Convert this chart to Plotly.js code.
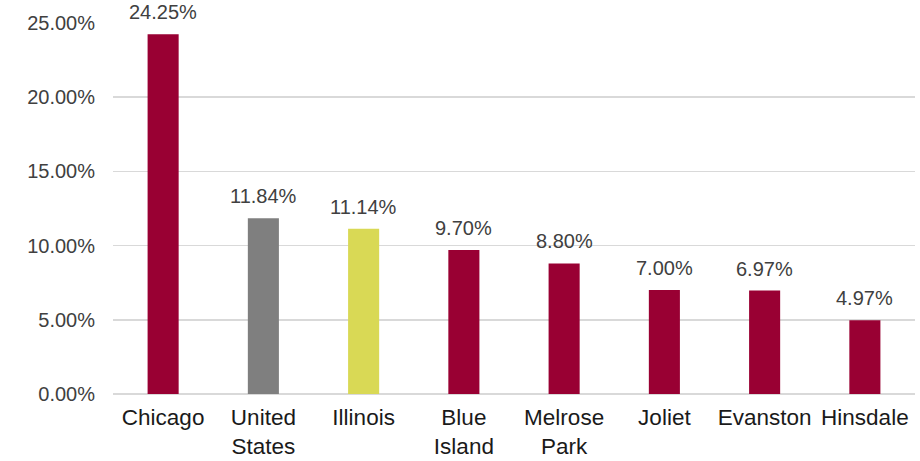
<!DOCTYPE html>
<html>
<head>
<meta charset="utf-8">
<script src="https://cdn.plot.ly/plotly-3.0.1.min.js"></script>
<style>html,body{margin:0;padding:0;background:#fff;}#chart{width:920px;height:461px;}</style>
</head>
<body>
<div id="chart"></div>
<script>
var categories = ["Chicago", "United<br>States", "Illinois", "Blue<br>Island", "Melrose<br>Park", "Joliet", "Evanston", "Hinsdale"];
var values = [24.25, 11.84, 11.14, 9.70, 8.80, 7.00, 6.97, 4.97];
var barColors = ["#990033", "#7f7f7f", "#d9d955", "#990033", "#990033", "#990033", "#990033", "#990033"];
var tickValues = [0, 5, 10, 15, 20, 25];
var tickLabels = ["0.00%", "5.00%", "10.00%", "15.00%", "20.00%", "25.00%"];

var font = "Liberation Sans, Arial, sans-serif";

var trace = {
  type: "bar",
  x: categories,
  y: values,
  marker: {color: barColors},
  width: 0.31,
  hoverinfo: "skip"
};

var annotations = categories.map(function (c, i) {
  return {
    x: c, y: values[i], xref: "x", yref: "y",
    text: values[i].toFixed(2) + "%",
    showarrow: false, yanchor: "bottom", yshift: 9,
    font: {family: font, size: 20, color: "#404040"}
  };
});

var layout = {
  width: 920, height: 461,
  margin: {l: 113, r: 5, t: 22.5, b: 66.7},
  paper_bgcolor: "#fff", plot_bgcolor: "#fff",
  showlegend: false,
  bargap: 0.69,
  xaxis: {
    type: "category",
    showgrid: false,
    showline: false,
    zeroline: false,
    ticks: "",
    ticklabelstandoff: 7,
    tickfont: {family: font, size: 22.5, color: "#1a1a1a"}
  },
  yaxis: {
    range: [0, 25],
    tickvals: tickValues,
    ticktext: tickLabels,
    showgrid: true,
    gridcolor: "#d9d9d9",
    gridwidth: 1.5,
    zeroline: true,
    zerolinecolor: "#d9d9d9",
    zerolinewidth: 1.5,
    showline: false,
    ticks: "",
    ticklabelstandoff: 17,
    tickfont: {family: font, size: 20, color: "#404040"}
  },
  annotations: annotations
};

Plotly.newPlot("chart", [trace], layout, {displayModeBar: false, staticPlot: true});
</script>
</body>
</html>
